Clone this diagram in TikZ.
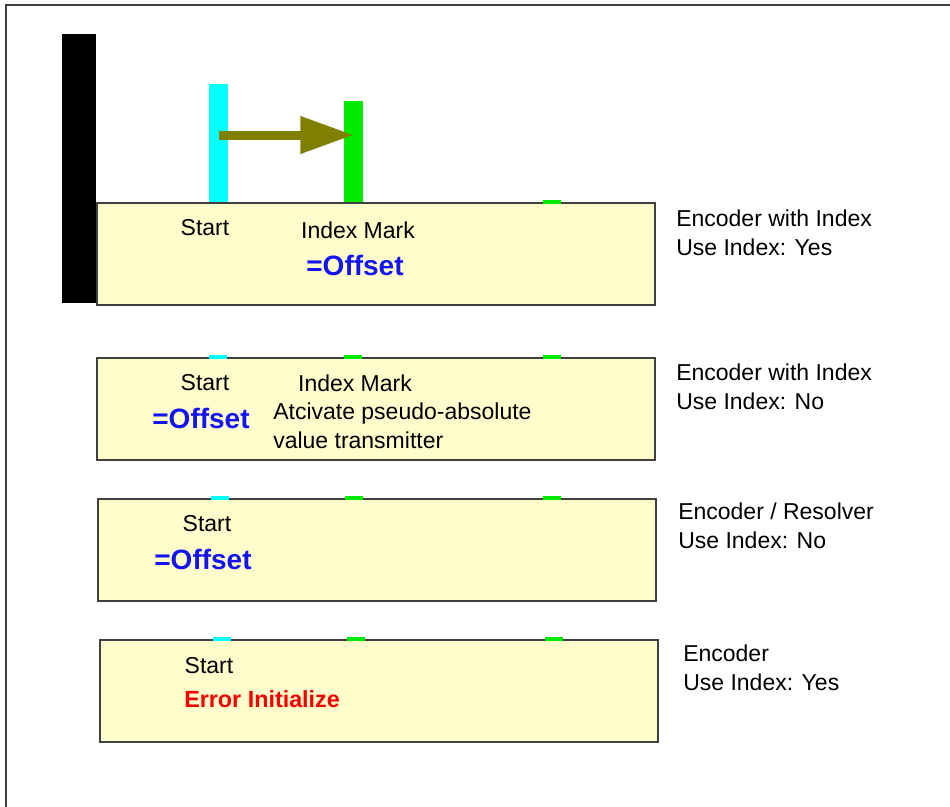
\documentclass[tikz,border=0pt]{standalone}
\usepackage{fontspec}
\setmainfont{Liberation Sans}
\usetikzlibrary{positioning}
\usetikzlibrary{calc}
\usetikzlibrary{arrows.meta}

\definecolor{trackfill}{RGB}{255,253,204}
\definecolor{trackline}{RGB}{64,64,64}
\definecolor{startcyan}{RGB}{0,255,255}
\definecolor{markgreen}{RGB}{0,235,0}
\definecolor{shiftolive}{RGB}{128,128,0}
\definecolor{offsetblue}{RGB}{20,20,240}
\definecolor{errorred}{RGB}{245,0,0}

\tikzset{
    track/.style={rectangle, draw=trackline, line width=1.5pt,
        fill=trackfill, inner sep=0, anchor=north west,
        minimum width=418.5pt, minimum height=76.5pt},
    bar/.style={rectangle, inner sep=0, anchor=south west,
        minimum width=14.25pt},
    plain/.style={inner sep=0, font=\fontsize{17.25}{21.75}\selectfont},
    offset/.style={inner sep=0, text=offsetblue,
        font=\fontsize{21}{24}\selectfont\bfseries},
    caption/.style={plain, align=left, anchor=west},
    tickcyan/.style={startcyan, line width=2.5pt},
    tickgreen/.style={markgreen, line width=2.5pt},
}

\begin{document}
\begin{tikzpicture}[x=0.75pt, y=-0.75pt]

\useasboundingbox (0,0) rectangle (950,807);

% frame
\draw [trackline, line width=1.5pt] (6,807) -- (6,5) -- (950,5);

% end stop and the four tracks
\node [rectangle, fill=black, inner sep=0, anchor=north west,
    minimum width=25.5pt, minimum height=201.75pt] (stop) at (62,34) {};

\node [track] (track one) at (96,202) {};
\node [track] (track two) at (96,357) {};
\node [track] (track three) at (97,498) {};
\node [track] (track four) at (99,639) {};

% start and index mark on the first track
\node [bar, fill=startcyan, minimum height=88.5pt] (start bar) at (209,202) {};
\node [bar, fill=markgreen, minimum height=75.75pt] (index bar) at (344,202) {};
\draw [tickgreen] ($(track one.north west)+(447,0)$) -- ++(18,0);

\draw [shiftolive, line width=6.75pt,
    -{Triangle[length=40pt, width=26.5pt]}]
    (start bar.center |- 0,135) -- (index bar.center |- 0,135);

% marks on the other tracks
\draw [tickcyan] ($(track two.north west)+(113,0)$) -- ++(18,0);
\draw [tickgreen] ($(track two.north west)+(248,0)$) -- ++(18,0);
\draw [tickgreen] ($(track two.north west)+(447,0)$) -- ++(18,0);

\draw [tickcyan] ($(track three.north west)+(114,0)$) -- ++(18,0);
\draw [tickgreen] ($(track three.north west)+(248,0)$) -- ++(18,0);
\draw [tickgreen] ($(track three.north west)+(446,0)$) -- ++(18,0);

\draw [tickcyan] ($(track four.north west)+(114,0)$) -- ++(18,0);
\draw [tickgreen] ($(track four.north west)+(248,0)$) -- ++(18,0);
\draw [tickgreen] ($(track four.north west)+(446,0)$) -- ++(18,0);

% texts inside the tracks
\node [plain] (start one) at (205,228) {Start};
\node [plain] (index one) at (358,230) {Index Mark};
\node [offset] (offset one) at (355,265) {=Offset};

\node [plain] (start two) at (205,383) {Start};
\node [plain] (index two) at (355,383) {Index Mark};
\node [offset] (offset two) at (201,418) {=Offset};
\node [caption] (pseudo two) at (273,425.5)
    {Atcivate pseudo-absolute\\value transmitter};

\node [plain] (start three) at (207,524) {Start};
\node [offset] (offset three) at (203,559) {=Offset};

\node [plain] (start four) at (209,666) {Start};
\node [plain, anchor=west, text=errorred, font=\fontsize{17.5}{21}\selectfont\bfseries]
    (error four) at (184,699) {Error Initialize};

% settings beside the tracks
\node [caption] (setting one) at (676,232.5) {Encoder with Index\\Use Index: Yes};
\node [caption] (setting two) at (676,386.5) {Encoder with Index\\Use Index: No};
\node [caption] (setting three) at (678,526) {Encoder / Resolver\\Use Index: No};
\node [caption] (setting four) at (683,667.5) {Encoder\\Use Index: Yes};

\end{tikzpicture}
\end{document}
